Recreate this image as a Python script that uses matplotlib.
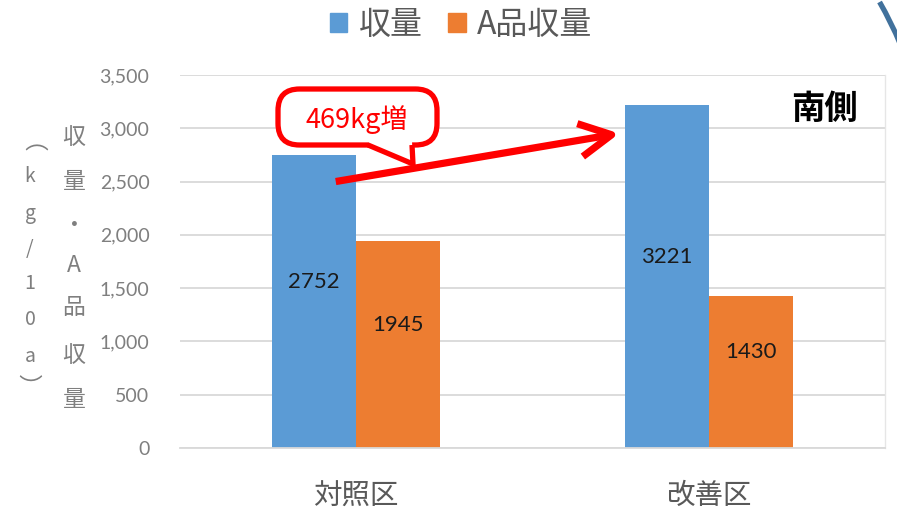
import matplotlib
matplotlib.use("Agg")
import matplotlib.pyplot as plt
from matplotlib.patches import FancyBboxPatch, Polygon, FancyArrowPatch, Arc
from matplotlib.ticker import FuncFormatter

plt.rcParams['font.family'] = ['Noto Sans CJK JP', 'DejaVu Sans']

# ---- data ----
categories = ["対照区", "改善区"]
series_names = ["収量", "A品収量"]
yield_total = [2752, 3221]
yield_grade_a = [1945, 1430]
y_ticks = [0, 500, 1000, 1500, 2000, 2500, 3000, 3500]
increase_label = "469kg増"
side_label = "南側"

BLUE = "#5B9BD5"
ORANGE = "#ED7D31"
GRAY_TXT = "#7f7f7f"
GRID = "#d9d9d9"
RED = "#FF0000"

W, H = 897, 511
fig = plt.figure(figsize=(W / 100, H / 100), dpi=100)


def fx(px):
    return px / W


def fy(py):
    return 1 - py / H


ax = fig.add_axes([fx(180), fy(448), fx(885) - fx(180), fy(75) - fy(448)])

xs = list(range(len(categories)))
bw = 0.238
b1 = ax.bar([x - bw / 2 for x in xs], yield_total, width=bw, color=BLUE, zorder=2)
b2 = ax.bar([x + bw / 2 for x in xs], yield_grade_a, width=bw, color=ORANGE, zorder=2)

ax.set_xlim(-0.5, 1.5)
ax.set_ylim(0, 3500)
ax.set_yticks(y_ticks)
ax.yaxis.set_major_formatter(FuncFormatter(lambda v, p: f"{int(v):,}"))
ax.set_xticks(xs)
ax.set_xticklabels(categories, fontsize=20.5, color="#595959")
ax.tick_params(axis='x', length=0, pad=24)
ax.tick_params(axis='y', length=0, pad=22, labelsize=14, labelcolor=GRAY_TXT)
for lab in ax.get_yticklabels():
    lab.set_family(['Lato', 'DejaVu Sans'])

ax.grid(axis='y', color=GRID, linewidth=1.3, zorder=0)
ax.set_axisbelow(True)
for s in ["top", "left"]:
    ax.spines[s].set_visible(False)
ax.spines["bottom"].set_color(GRID)
ax.spines["bottom"].set_linewidth(1.3)
ax.spines["right"].set_color("#e6e6e6")
ax.spines["right"].set_linewidth(1.0)

# value labels inside bars
for bars, vals in ((b1, yield_total), (b2, yield_grade_a)):
    for rect, v in zip(bars, vals):
        ax.annotate(f"{v}", xy=(rect.get_x() + rect.get_width() / 2, v / 2),
                    xytext=(0, 14), textcoords="offset points",
                    ha="center", va="center", fontsize=16, color="#1a1a1a",
                    family=['Lato', 'DejaVu Sans'], zorder=4)

# legend
handles = [plt.Rectangle((0, 0), 1, 1, color=BLUE), plt.Rectangle((0, 0), 1, 1, color=ORANGE)]
fig.legend(handles, series_names, loc="center", bbox_to_anchor=(fx(461), fy(25)),
           ncol=2, frameon=False, fontsize=23, handlelength=0.55, handleheight=0.55,
           handletextpad=0.35, columnspacing=0.8, labelcolor="#595959")

# vertical axis title (two stacked columns)
fig.text(fx(17), fy(155), "（", ha="center", va="center", fontsize=17,
         color=GRAY_TXT, rotation=-90)
col1 = ["k", "g", "/", "1", "0", "a"]
col1_y = [176, 214, 250, 283, 319, 356]
for ch, py in zip(col1, col1_y):
    fig.text(fx(30), fy(py), ch, ha="center", va="center", fontsize=14,
             color=GRAY_TXT, family=['Noto Sans CJK JP', 'DejaVu Sans'])
fig.text(fx(27), fy(386), "）", ha="center", va="center", fontsize=17,
         color=GRAY_TXT, rotation=-90)
col2 = ["収", "量", "・", "A", "品", "収", "量"]
col2_y = [137, 182, 225, 266, 308, 356, 400]
for ch, py in zip(col2, col2_y):
    fig.text(fx(74), fy(py), ch, ha="center", va="center", fontsize=16.5,
             color=GRAY_TXT)

# side label
fig.text(fx(824), fy(110), side_label, ha="center", va="center", fontsize=24,
         fontweight="bold", color="black")

# callout box with tail
box = FancyBboxPatch((fx(278), fy(145)), fx(437) - fx(278), fy(89) - fy(145),
                     boxstyle="round,pad=0,rounding_size=0.024",
                     transform=fig.transFigure, facecolor="white", edgecolor=RED,
                     linewidth=3.8, zorder=5, mutation_aspect=W / H)
fig.add_artist(box)
tail_fill = Polygon([(fx(369), fy(141)), (fx(412), fy(141)), (fx(413), fy(163)),
                     (fx(369), fy(146))], closed=True, transform=fig.transFigure,
                    facecolor="white", edgecolor="none", zorder=6)
fig.add_artist(tail_fill)
tail_edge = Polygon([(fx(368), fy(145)), (fx(413), fy(164)), (fx(412), fy(145))],
                    closed=False, transform=fig.transFigure, facecolor="none",
                    edgecolor=RED, linewidth=3.8, zorder=6, joinstyle="miter")
fig.add_artist(tail_edge)
fig.text(fx(357), fy(120), increase_label, ha="center", va="center", fontsize=19.5,
         color=RED, zorder=7)

# arrow between the two totals
arrow = FancyArrowPatch((fx(333), fy(182)), (fx(622), fy(133)),
                        transform=fig.transFigure, arrowstyle="->,head_length=2.3,head_width=1.2",
                        mutation_scale=10, color=RED, linewidth=5.2,
                        capstyle="butt", joinstyle="round", zorder=8)
fig.add_artist(arrow)

# decorative arc in the corner
r = 400
arc = Arc((fx(532), fy(200)), 2 * r / W, 2 * r / H, theta1=5, theta2=45,
          transform=fig.transFigure, color="#41719C", linewidth=3.8, zorder=9)
fig.add_artist(arc)

fig.savefig("out.png", dpi=100)
